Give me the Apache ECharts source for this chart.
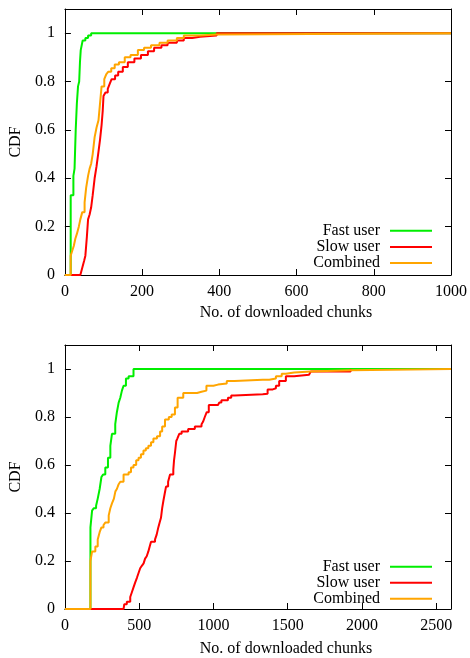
<!DOCTYPE html>
<html><head><meta charset="utf-8">
<script src="https://cdn.jsdelivr.net/npm/echarts@6/dist/echarts.min.js"></script>
<style>html,body{margin:0;padding:0;background:#fff}#c{width:470px;height:658px}</style>
</head><body><div id="c"></div>
<script>
// Top panel (x 0..1000)
var fastTop = [[0,0],[15,0.33],[22,0.41],[25,0.44],[28,0.6],[31,0.71],[34,0.78],[37,0.8],[39,0.88],[41,0.93],[46,0.97],[53,0.98],[60,0.99],[68,1.0],[1000,1.0]];
var slowTop = [[0,0],[40,0],[45,0.03],[50,0.06],[53,0.08],[57,0.16],[60,0.23],[64,0.25],[68,0.28],[72,0.33],[77,0.4],[82,0.45],[87,0.51],[91,0.56],[95,0.62],[98,0.68],[100,0.74],[105,0.755],[111,0.77],[116,0.79],[121,0.81],[130,0.825],[138,0.84],[150,0.86],[163,0.88],[180,0.895],[197,0.91],[215,0.925],[231,0.94],[250,0.95],[266,0.96],[290,0.97],[308,0.98],[330,0.985],[350,0.99],[393,1.0],[1000,1.0]];
var combinedTop = [[0,0],[15,0.08],[19,0.1],[23,0.12],[27,0.15],[31,0.17],[36,0.2],[40,0.23],[45,0.26],[51,0.3],[55,0.36],[60,0.41],[64,0.44],[68,0.46],[72,0.5],[77,0.57],[82,0.61],[87,0.64],[91,0.71],[95,0.78],[102,0.81],[107,0.83],[112,0.84],[120,0.855],[129,0.87],[140,0.88],[155,0.9],[170,0.91],[189,0.93],[205,0.94],[223,0.95],[245,0.96],[266,0.97],[290,0.98],[308,0.99],[350,0.995],[393,1.0],[1000,1.0]];
// Bottom panel (x 0..2600)
var fastBottom = [[0,0],[172,0.34],[183,0.41],[194,0.42],[210,0.43],[221,0.46],[234,0.5],[246,0.55],[257,0.56],[272,0.59],[290,0.63],[306,0.68],[317,0.73],[339,0.77],[350,0.82],[362,0.86],[373,0.88],[384,0.91],[395,0.93],[411,0.96],[429,0.97],[462,1.0],[2600,1.0]];
var slowBottom = [[0,0],[395,0],[400,0.02],[417,0.03],[440,0.05],[451,0.07],[462,0.09],[473,0.11],[485,0.13],[496,0.15],[507,0.17],[518,0.18],[530,0.19],[540,0.21],[551,0.22],[562,0.24],[571,0.26],[580,0.28],[607,0.29],[618,0.31],[629,0.34],[638,0.36],[647,0.38],[655,0.42],[663,0.45],[672,0.48],[681,0.51],[695,0.53],[708,0.56],[730,0.58],[735,0.62],[741,0.65],[750,0.7],[757,0.71],[770,0.73],[786,0.74],[830,0.75],[875,0.76],[920,0.77],[930,0.78],[942,0.8],[955,0.82],[969,0.85],[1031,0.85],[1040,0.86],[1054,0.87],[1098,0.88],[1120,0.89],[1143,0.895],[1332,0.897],[1365,0.915],[1400,0.92],[1421,0.93],[1443,0.95],[1488,0.97],[1544,0.976],[1644,0.98],[1656,0.99],[1924,0.99],[1924,1.0]];
var combinedBottom = [[0,0],[172,0.2],[183,0.24],[205,0.26],[221,0.29],[234,0.32],[246,0.34],[260,0.35],[272,0.36],[295,0.39],[306,0.42],[317,0.44],[330,0.46],[340,0.49],[350,0.5],[362,0.52],[373,0.53],[395,0.56],[429,0.57],[445,0.59],[462,0.6],[480,0.62],[496,0.63],[512,0.645],[529,0.66],[545,0.67],[562,0.68],[580,0.695],[596,0.71],[620,0.72],[641,0.74],[655,0.76],[674,0.79],[700,0.8],[719,0.81],[741,0.84],[759,0.88],[797,0.9],[853,0.9],[890,0.905],[920,0.91],[953,0.93],[1000,0.935],[1031,0.94],[1090,0.95],[1143,0.955],[1332,0.955],[1376,0.96],[1421,0.97],[1460,0.98],[1488,0.985],[1544,0.99],[1656,0.995],[1924,1.0],[2600,1.0]];

var seriesNames = ['Fast user','Slow user','Combined'];
var seriesColors = ['#00ee00','#ff0000','#ffa500'];
var yTicks = [0,0.2,0.4,0.6,0.8,1];
var xTitle = 'No. of downloaded chunks';
var yTitle = 'CDF';

var FONT = 'Liberation Serif';
var txt = {fontFamily: FONT, fontSize: 16, color: '#000'};
var grids = [
  {left: 63, top: 9, width: 388, height: 266},
  {left: 63, top: 345, width: 388, height: 266}
];
var xMax = [1000, 2600], xInt = [200, 500];
var xAxes = [], yAxes = [];
[0,1].forEach(function(g){
  xAxes.push({type:'value', gridIndex:g, min:0, max:xMax[g], interval:xInt[g], position:'bottom',
    name:xTitle, nameLocation:'middle', nameGap: g===0?30:32,
    nameTextStyle: Object.assign({}, txt, {padding:[0,0,0,56]}),
    axisLine:{show:true, onZero:false, lineStyle:{color:'#000', width:1}},
    axisTick:{show:true, inside:true, length:6, lineStyle:{color:'#000'}},
    axisLabel:Object.assign({}, txt, {margin:9, showMaxLabel: g===0,
      formatter:function(v){ return String(v); }}),
    splitLine:{show:false}});
  xAxes.push({type:'value', gridIndex:g, min:0, max:xMax[g], interval:xInt[g], position:'top',
    axisLine:{show:true, onZero:false, lineStyle:{color:'#000', width:1}},
    axisTick:{show:true, inside:true, length:6, lineStyle:{color:'#000'}},
    axisLabel:{show:false}, splitLine:{show:false}});
  yAxes.push({type:'value', gridIndex:g, min:0, max:1.1, interval:0.2, position:'left',
    name:yTitle, nameLocation:'middle', nameGap:39, nameRotate:90, nameTextStyle: txt,
    axisLine:{show:true, onZero:false, lineStyle:{color:'#000', width:1}},
    axisTick:{show:true, inside:true, length:6, lineStyle:{color:'#000'}},
    axisLabel:Object.assign({}, txt, {margin:10, showMaxLabel:false,
      formatter:function(v){ return yTicks.indexOf(Math.round(v*10)/10) >= 0 ? String(Math.round(v*10)/10) : ''; }}),
    splitLine:{show:false}});
  yAxes.push({type:'value', gridIndex:g, min:0, max:1.1, interval:0.2, position:'right',
    axisLine:{show:true, onZero:false, lineStyle:{color:'#000', width:1}},
    axisTick:{show:true, inside:true, length:6, lineStyle:{color:'#000'}},
    axisLabel:{show:false}, splitLine:{show:false}});
});

var dataSets = [[fastTop, slowTop, combinedTop],[fastBottom, slowBottom, combinedBottom]];
var series = [];
[0,1].forEach(function(g){
  dataSets[g].forEach(function(d, i){
    series.push({type:'line', name:seriesNames[i], xAxisIndex:g*2, yAxisIndex:g*2, data:d,
      step:'end', showSymbol:false, symbol:'none', animation:false, clip:true,
      lineStyle:{color:seriesColors[i], width:2}, itemStyle:{color:seriesColors[i]}});
  });
});

var legendRows = [[230.7,247,263],[566.7,582.7,598.7]];
var legends = [];
[0,1].forEach(function(g){
  seriesNames.forEach(function(n, i){
    legends.push({data:[n], orient:'vertical', right:38, top: legendRows[g][i]-8, padding:0,
      align:'right', icon:'rect', itemWidth:42, itemHeight:2, selectedMode:false,
      itemStyle:{borderWidth:0},
      textStyle:Object.assign({}, txt, {lineHeight:16, padding:[0,5,0,0]})});
  });
});

var chart = echarts.init(document.getElementById('c'), null, {renderer:'canvas'});
chart.setOption({animation:false, backgroundColor:'#fff', grid:grids, xAxis:xAxes, yAxis:yAxes, legend:legends, series:series});
</script></body></html>
